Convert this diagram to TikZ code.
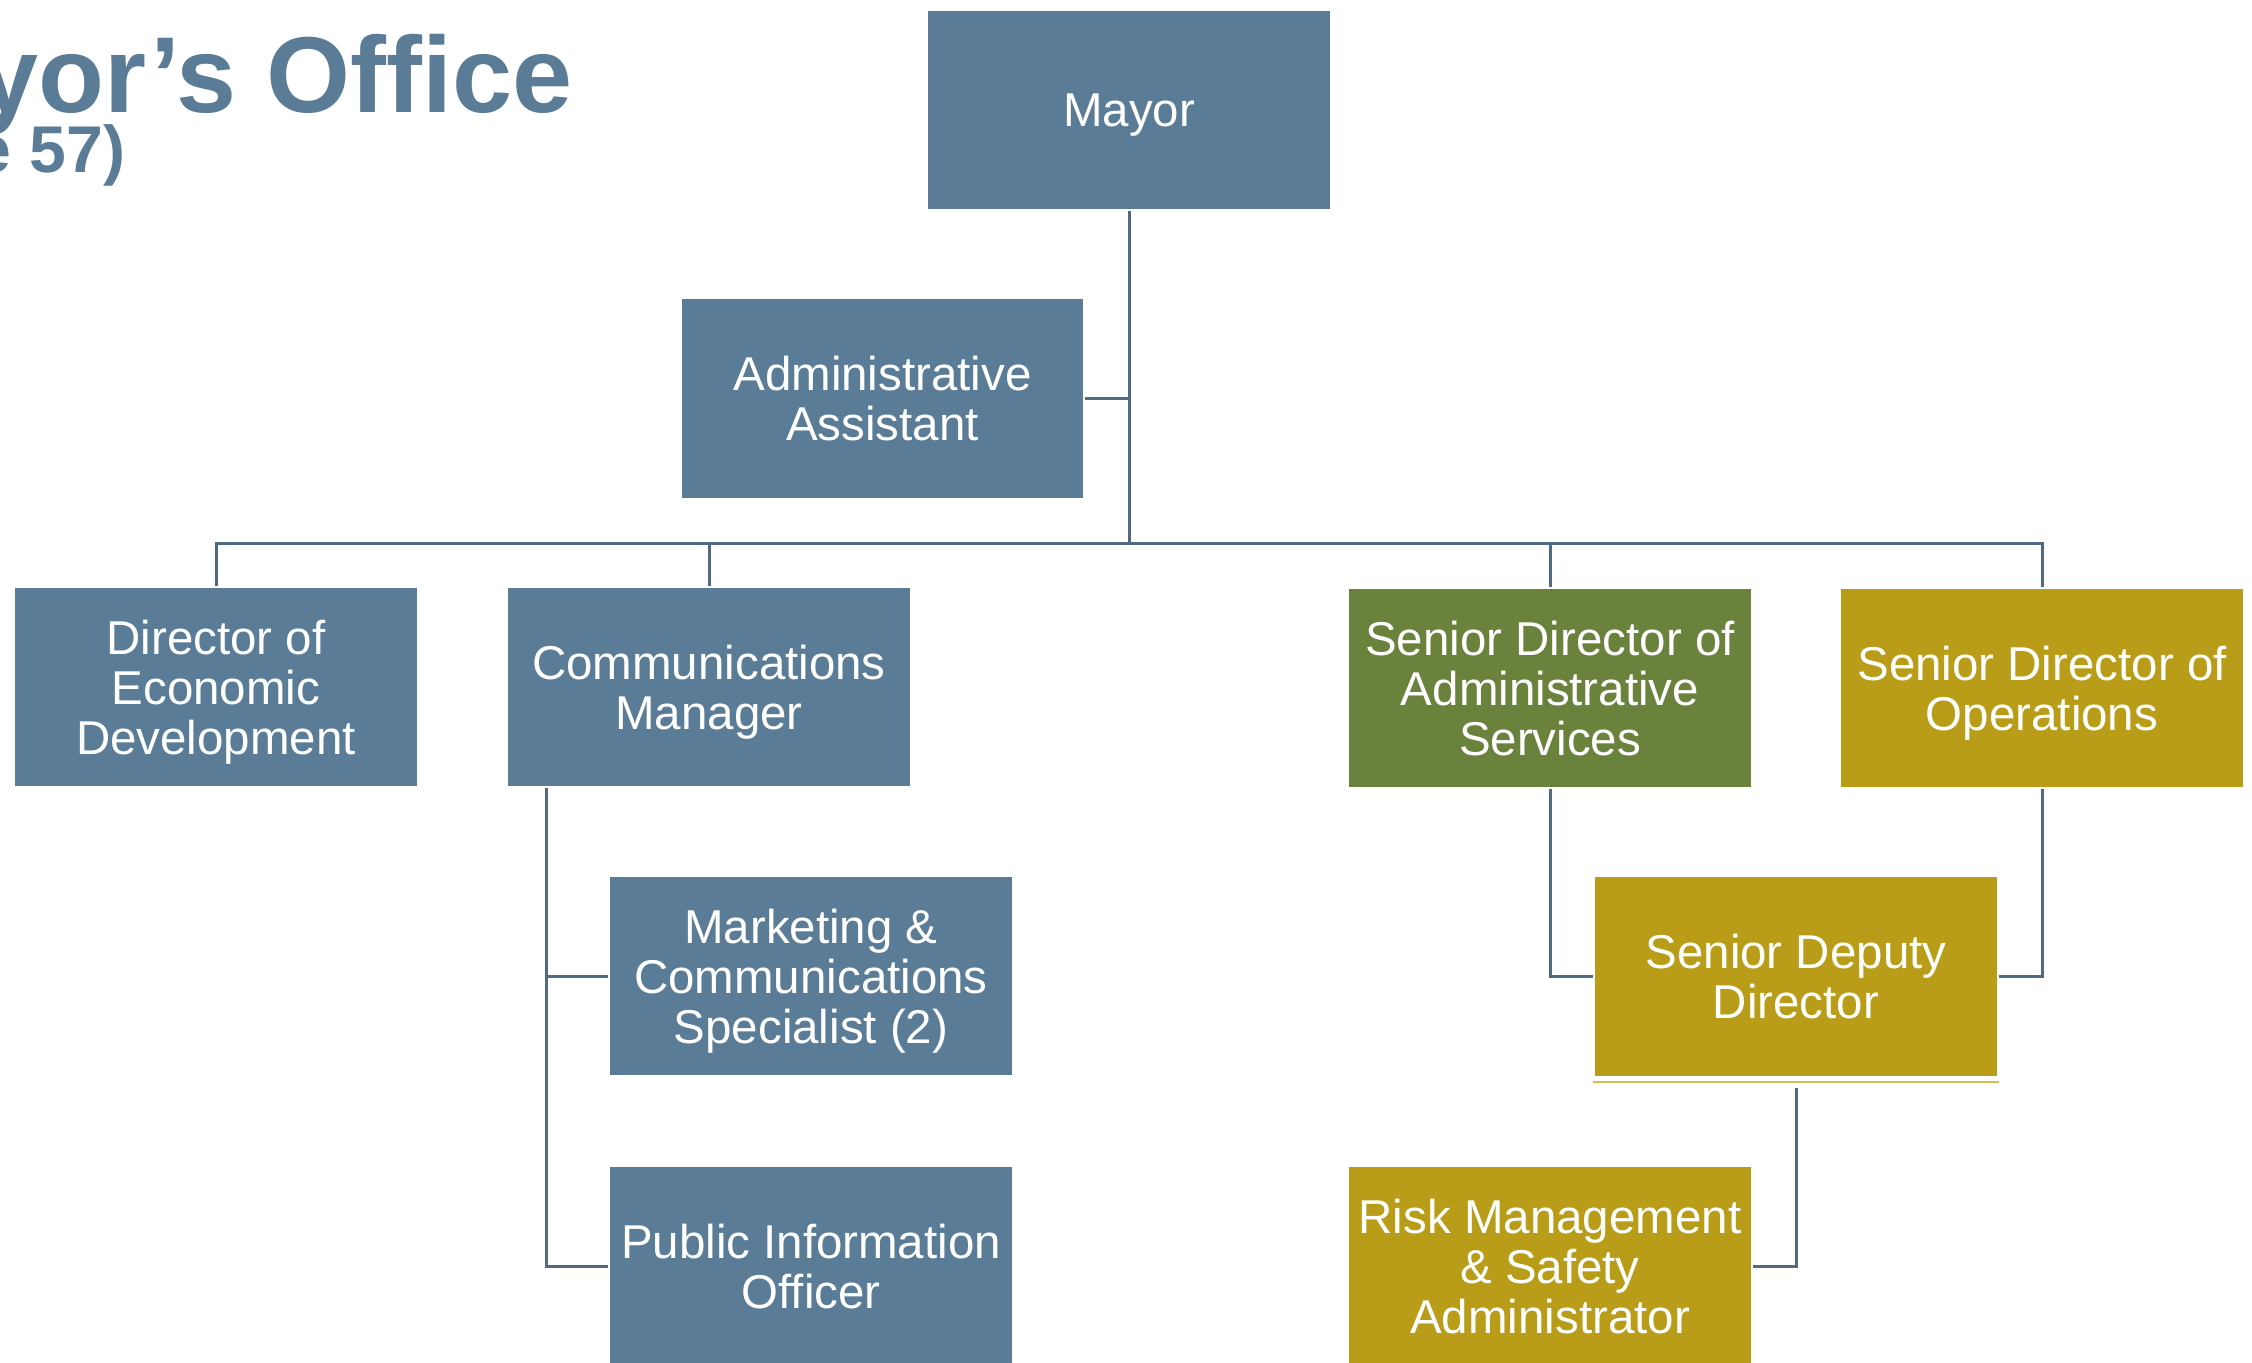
\documentclass[tikz,border=0pt]{standalone}
\usepackage{fontspec}
\setmainfont{Liberation Sans}
\usetikzlibrary{backgrounds}
\definecolor{boxblue}{HTML}{5B7C96}
\definecolor{boxgreen}{HTML}{6B823D}
\definecolor{boxgold}{HTML}{B99D18}
\definecolor{linecol}{HTML}{4F6A82}
\definecolor{goldline}{HTML}{D8BE4C}
\begin{document}
\begin{tikzpicture}[x=0.01cm,y=-0.01cm,
  orgbox/.style={rectangle, draw=white, line width=0.02cm, minimum width=4.03cm,
    minimum height=2cm, inner sep=0pt, align=center, text=white, text depth=0pt,
    font=\fontsize{13.5pt}{14.2pt}\selectfont},
  bluebox/.style={fill=boxblue},
  greenbox/.style={fill=boxgreen},
  goldbox/.style={fill=boxgold},
  conn/.style={draw=linecol, line width=0.03cm},
  titletext/.style={anchor=base east, inner sep=0pt, text=boxblue}]
\useasboundingbox (0,0) rectangle (2252,1362);

\node[titletext, font=\fontsize{30.7pt}{32pt}\selectfont\bfseries] (title) at (573,112) {Mayor’s Office};
\node[titletext, font=\fontsize{18.8pt}{20pt}\selectfont\bfseries] (subtitle) at (126,172) {(Page 57)};

\node[orgbox,bluebox] (mayor) at (1129,110) {Mayor};
\node[orgbox,bluebox] (admin) at (882.5,398.5) {Administrative\\Assistant};
\node[orgbox,bluebox] (econ) at (216,687) {Director of\\Economic\\Development};
\node[orgbox,bluebox] (comm) at (709,687) {Communications\\Manager};
\node[orgbox,greenbox] (sda) at (1550,688) {Senior Director of\\Administrative\\Services};
\node[orgbox,goldbox] (ops) at (2042,688) {Senior Director of\\Operations};
\node[orgbox,bluebox] (mkt) at (811,976) {Marketing \&\\Communications\\Specialist (2)};
\node[orgbox,bluebox] (pio) at (811,1266) {Public Information\\Officer};
\node[orgbox,goldbox] (dep) at (1796,976.5) {Senior Deputy\\Director};
\node[orgbox,goldbox] (risk) at (1550,1266) {Risk Management\\\& Safety\\Administrator};

\draw[goldline, line width=0.02cm] ([yshift=-0.045cm]dep.south west) -- ([yshift=-0.045cm]dep.south east);

\begin{scope}[on background layer]
  \coordinate (bar) at (1129,543);
  \coordinate (cmtrunk) at (546,787);
  \draw[conn] (mayor.south) -- (mayor.south |- bar);
  \draw[conn] (admin.east) -- (admin.east -| mayor.south);
  \draw[conn] (econ.north) |- (ops.north |- bar) -- (ops.north);
  \draw[conn] (comm.north) -- (comm.north |- bar);
  \draw[conn] (sda.north) -- (sda.north |- bar);
  \draw[conn] (cmtrunk) |- (pio.west);
  \draw[conn] (cmtrunk |- mkt.west) -- (mkt.west);
  \draw[conn] (sda.south) |- (dep.west);
  \draw[conn] (ops.south) |- (dep.east);
  \draw[conn, shorten <=0.1cm] (dep.south) |- (risk.east);
\end{scope}
\end{tikzpicture}
\end{document}
